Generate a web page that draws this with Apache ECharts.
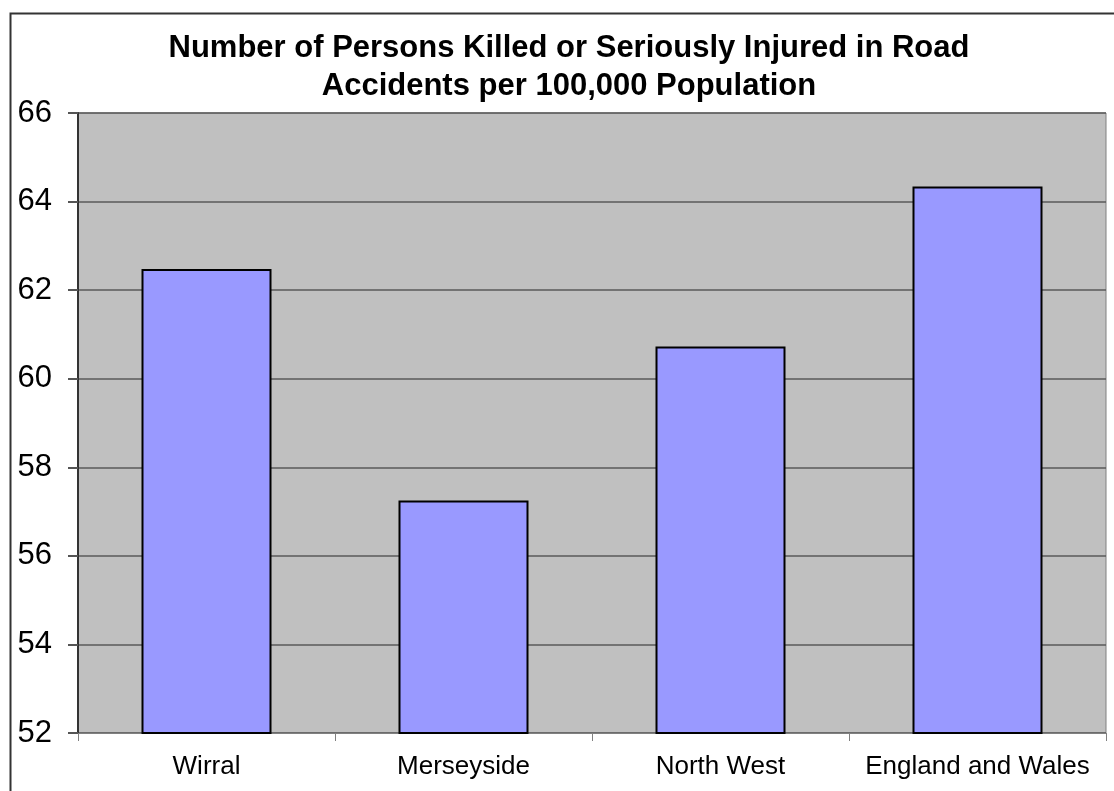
<!DOCTYPE html>
<html lang="en">
<head>
    <meta charset="UTF-8">
    <title>Road Accidents KSI</title>
    <style>
        html, body { margin: 0; padding: 0; background: #fff; }
        #chart { width: 1114px; height: 791px; }
    </style>
</head>
<body>
<div id="chart"></div>
<script type="text/javascript" src="https://cdn.jsdelivr.net/npm/echarts@6/dist/echarts.min.js"></script>
<script type="text/javascript">
    var areas = ['Wirral', 'Merseyside', 'North West', 'England and Wales'];
    var ksiRate = [62.48, 57.25, 60.73, 64.34];
    var yMin = 52, yMax = 66, yStep = 2;

    var font = 'Liberation Sans, Arial, sans-serif';
    var myChart = echarts.init(document.getElementById('chart'), null, {renderer: 'canvas'});

    var option = {
        backgroundColor: '#fff',
        animation: false,
        title: {
            text: 'Number of Persons Killed or Seriously Injured in Road\nAccidents per 100,000 Population',
            left: 564,
            textAlign: 'center',
            top: 24,
            textStyle: {
                fontFamily: font,
                fontWeight: 'bold',
                fontSize: 31,
                lineHeight: 38,
                color: '#000'
            }
        },
        graphic: [{
            type: 'rect',
            shape: {x: 10.5, y: 13.5, width: 1200, height: 900},
            style: {fill: 'none', stroke: '#333', lineWidth: 2},
            silent: true
        }],
        grid: {
            left: 78,
            top: 113,
            width: 1028,
            height: 620,
            show: true,
            backgroundColor: '#C0C0C0',
            borderColor: '#808080',
            borderWidth: 1
        },
        xAxis: {
            type: 'category',
            data: areas,
            axisLine: {show: true, lineStyle: {color: '#808080', width: 1}},
            axisTick: {show: true, length: 8, lineStyle: {color: '#808080'}},
            axisLabel: {
                interval: 0,
                fontFamily: font,
                fontSize: 26,
                color: '#000',
                margin: 21
            }
        },
        yAxis: {
            type: 'value',
            min: yMin,
            max: yMax,
            interval: yStep,
            axisLine: {show: true, lineStyle: {color: '#333', width: 2}},
            axisTick: {show: true, length: 10, lineStyle: {color: '#555', width: 2}},
            axisLabel: {
                fontFamily: font,
                fontSize: 31,
                color: '#000',
                margin: 26
            },
            splitLine: {show: true, lineStyle: {color: '#5a5a5a', width: 1.5}}
        },
        series: [{
            type: 'bar',
            data: ksiRate,
            barWidth: 130,
            itemStyle: {
                color: '#9999FF',
                borderColor: '#000',
                borderWidth: 2
            }
        }]
    };

    myChart.setOption(option);
</script>
</body>
</html>
